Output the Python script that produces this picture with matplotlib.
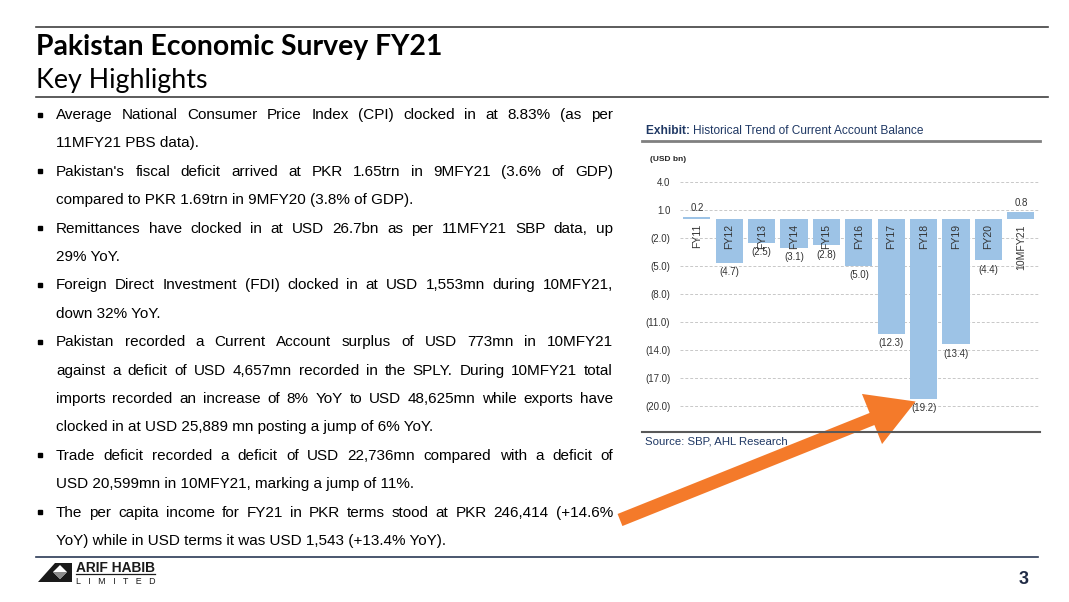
import numpy as np
import matplotlib
matplotlib.use("Agg")
import matplotlib.pyplot as plt
import matplotlib.patches as mpatches

# chart data
categories = ["FY11", "FY12", "FY13", "FY14", "FY15", "FY16", "FY17", "FY18", "FY19", "FY20", "10MFY21"]
values = [0.2, -4.7, -2.5, -3.1, -2.8, -5.0, -12.3, -19.2, -13.4, -4.4, 0.8]
y_ticks = [4.0, 1.0, -2.0, -5.0, -8.0, -11.0, -14.0, -17.0, -20.0]

title = "Pakistan Economic Survey FY21"
subtitle = "Key Highlights"
chart_title = "Historical Trend of Current Account Balance"
unit_label = "(USD bn)"
source = "Source: SBP, AHL Research"

# bullet paragraphs, already broken into lines as on the slide
bullets = [
    ["Average National Consumer Price Index (CPI) clocked in at 8.83% (as per",
     "11MFY21 PBS data)."],
    ["Pakistan's fiscal deficit arrived at PKR 1.65trn in 9MFY21 (3.6% of GDP)",
     "compared to PKR 1.69trn in 9MFY20 (3.8% of GDP)."],
    ["Remittances have clocked in at USD 26.7bn as per 11MFY21 SBP data, up",
     "29% YoY."],
    ["Foreign Direct Investment (FDI) clocked in at USD 1,553mn during 10MFY21,",
     "down 32% YoY."],
    ["Pakistan recorded a Current Account surplus of USD 773mn in 10MFY21",
     "against a deficit of USD 4,657mn recorded in the SPLY. During 10MFY21 total",
     "imports recorded an increase of 8% YoY to USD 48,625mn while exports have",
     "clocked in at USD 25,889 mn posting a jump of 6% YoY."],
    ["Trade deficit recorded a deficit of USD 22,736mn compared with a deficit of",
     "USD 20,599mn in 10MFY21, marking a jump of 11%."],
    ["The per capita income for FY21 in PKR terms stood at PKR 246,414 (+14.6%",
     "YoY) while in USD terms it was USD 1,543 (+13.4% YoY)."],
]

W, H = 1069, 602
plt.rcParams["font.family"] = ["Liberation Sans", "DejaVu Sans"]
fig = plt.figure(figsize=(W / 100, H / 100), dpi=100)
fig.patch.set_facecolor("white")

bar_color = "#9dc3e6"
navy = "#1f3864"
text_dark = "#262626"

# ---- chart axes (pixel box 680..1040 x 175..420) ----
ax = fig.add_axes([680 / W, 1 - 420 / H, 360 / W, 245 / H])
x = np.arange(len(categories))
ax.bar(x, values, width=0.84, color=bar_color, zorder=2)
ax.set_xlim(-0.52, 10.59)
ax.set_ylim(-21.5, 4.75)
ax.set_yticks(y_ticks)
ax.set_yticklabels([f"{v:.1f}" if v >= 0 else f"({-v:.1f})" for v in y_ticks],
                   fontsize=7, color="#333333")
ax.tick_params(axis="y", length=0, pad=7)
ax.set_xticks([])
for s in ax.spines.values():
    s.set_visible(False)
ax.grid(axis="y", color="#c8c8c8", linestyle=(0, (3, 2)), linewidth=0.7, zorder=0)
ax.set_facecolor("none")

for xi, cat, v in zip(x, categories, values):
    ax.text(xi, -0.5, cat, rotation=90, ha="center", va="top", fontsize=7.5,
            color="#333333", zorder=3)
    if v >= 0:
        ax.text(xi, v + 0.45, f"{v:.1f}", ha="center", va="bottom", fontsize=7,
                color="#333333")
    else:
        ax.text(xi, v - 0.45, f"({-v:.1f})", ha="center", va="top", fontsize=7,
                color="#333333")

# ---- overlay axes in pixel coordinates ----
ov = fig.add_axes([0, 0, 1, 1], zorder=5)
ov.set_xlim(0, W)
ov.set_ylim(H, 0)
ov.axis("off")
ov.patch.set_alpha(0)

r = fig.canvas.get_renderer()


def text_width(t):
    return t.get_window_extent(renderer=r).width


def fit_text(s, x0, y, target_w, size, **kw):
    t = ov.text(x0, y, s, fontsize=size, **kw)
    t.set_fontsize(size * target_w / text_width(t))
    return t


# header lines and titles
ov.plot([36, 1048], [27, 27], color="#404040", lw=1.2)
ov.plot([36, 1048], [96.5, 96.5], color="#404040", lw=1.2)
ov.plot([36, 1038], [557, 557], color="#2b3a55", lw=1.2)
fit_text(title, 36, 55, 406, 20, family=["Lato", "DejaVu Sans"], weight="bold",
         color="black", va="baseline")
fit_text(subtitle, 36, 88, 171, 20, family=["Lato", "DejaVu Sans"],
         color="black", va="baseline")

# body text, justified like the slide
x_left, x_right = 56, 613
line_h = 28.4
y = 119
body_kw = dict(fontsize=11, color="black", va="baseline")
for para in bullets:
    ov.plot(39.5, y - 4.5, marker="s", ms=3.2, color="black", lw=0)
    for i, line in enumerate(para):
        if i == len(para) - 1:
            ov.text(x_left, y, line, **body_kw)
        else:
            words = line.split()
            ts = [ov.text(0, y, w_, **body_kw) for w_ in words]
            widths = [text_width(t) for t in ts]
            gap = (x_right - x_left - sum(widths)) / (len(words) - 1)
            xx = x_left
            for t, wd in zip(ts, widths):
                t.set_x(xx)
                xx += wd + gap
        y += line_h

# chart captions
t1 = ov.text(646, 134, "Exhibit: ", fontsize=8.6, weight="bold", color=navy,
             va="baseline")
ov.text(646 + text_width(t1), 134, chart_title, fontsize=8.6, color=navy,
        va="baseline")
ov.plot([642, 1040], [140.5, 140.5], color="#808080", lw=2)
ov.text(650, 161, unit_label, fontsize=6, weight="bold", color=text_dark,
        va="baseline")
ov.plot([642, 1040], [432, 432], color="#595959", lw=1.5)
ov.text(645, 445, source, fontsize=8.2, color=navy, va="baseline")

# orange arrow pointing at FY18
arrow = mpatches.FancyArrow(620, 520, 252, -101, width=13, head_width=54,
                            head_length=47, length_includes_head=False,
                            color="#f47a2a", lw=0)
ov.add_patch(arrow)

# footer: logo + page number
ov.add_patch(mpatches.Polygon([(38, 582), (55, 563), (72, 563), (72, 582)],
                              closed=True, color="#1a1a1a", lw=0))
ov.add_patch(mpatches.Polygon([(60, 565), (67, 572), (60, 579), (53, 572)],
                              closed=True, color="white", lw=0))
ov.add_patch(mpatches.Polygon([(53, 572), (67, 572), (60, 579)],
                              closed=True, color="#8c8c8c", lw=0))
fit_text("ARIF HABIB", 76, 572, 79, 8.5, weight="bold", color="#1a1a1a",
         va="baseline")
ov.plot([76, 155], [574, 574], color="#1a1a1a", lw=0.9)
fit_text("L   I   M   I   T   E   D", 76, 583.5, 79, 6.5, color="#1a1a1a",
         va="baseline")
ov.text(1029, 584, "3", fontsize=13, weight="bold", color="#1f2a44",
        ha="right", va="baseline")

fig.savefig("out.png", dpi=100, facecolor="white")
